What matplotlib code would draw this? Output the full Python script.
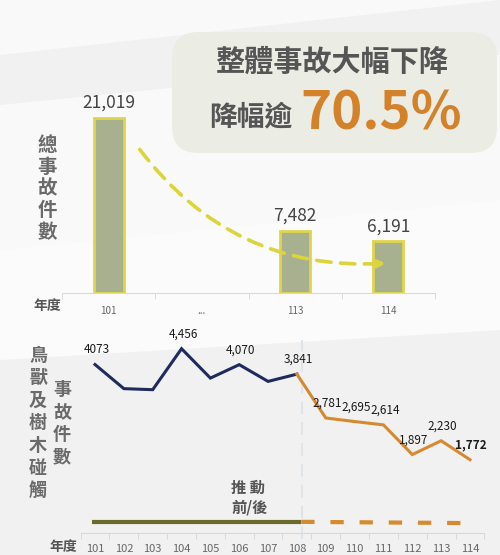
import matplotlib
matplotlib.use('Agg')
import matplotlib.pyplot as plt
from matplotlib.patches import FancyBboxPatch, Polygon
import numpy as np

plt.rcParams['font.family'] = ['Noto Sans CJK TC', 'DejaVu Sans']

# top chart: total accidents
total_years = ['101', '...', '113', '114']
total_values = [21019, None, 7482, 6191]
total_labels = ['21,019', '', '7,482', '6,191']

# bottom chart: bird / animal / tree contact accidents
contact_years = ['101', '102', '103', '104', '105', '106', '107',
                 '108', '109', '110', '111', '112', '113', '114']
contact_values = [4073, 3490, 3465, 4456, 3745, 4070, 3665,
                  3841, 2781, 2695, 2614, 1897, 2230, 1772]
contact_labels = ['4073', '', '', '4,456', '', '4,070', '',
                  '3,841', '2,781', '2,695', '2,614', '1,897', '2,230', '1,772']
split_index = 7  # 108 = start of the program

title_line1 = '整體事故大幅下降'
title_line2 = '降幅逾'
title_pct = '70.5%'

W, H = 500, 555
fig = plt.figure(figsize=(W / 100, H / 100), dpi=100)
fig.patch.set_facecolor('#f1f1f1')

# background / decoration layer in pixel coordinates
bg = fig.add_axes([0, 0, 1, 1], zorder=0)
bg.set_xlim(0, W)
bg.set_ylim(H, 0)
bg.axis('off')
bg.add_patch(Polygon([(0, 0), (500, 0), (500, 300), (0, 345)], closed=True,
                     facecolor='#f9f9f9', edgecolor='none'))
bg.add_patch(Polygon([(0, 55), (500, 0), (500, 55), (0, 105)], closed=True,
                     facecolor='#ececec', edgecolor='none', alpha=0.6))
bg.add_patch(Polygon([(0, 250), (500, 200), (500, 330), (0, 360)], closed=True,
                     facecolor='#fbfbfb', edgecolor='none'))
bg.add_patch(FancyBboxPatch((172, 32), 325, 121,
                            boxstyle='round,pad=0,rounding_size=26',
                            facecolor='#ebede5', edgecolor='none'))
bg.text(332, 62, title_line1, ha='center', va='center', fontsize=21,
        fontweight='bold', color='#555555')
bg.text(251, 117, title_line2, ha='center', va='center', fontsize=20,
        fontweight='bold', color='#555555')
bg.text(300, 130, title_pct, ha='left', va='baseline', fontsize=38,
        fontweight='bold', color='#d4822a')

bg.text(47, 189, '\n'.join('總事故件數'), ha='center', va='center', fontsize=14,
        fontweight='bold', color='#6a6a6a', linespacing=1.18)
bg.text(47, 306, '年度', ha='center', va='center', fontsize=10,
        fontweight='bold', color='#555555')
bg.text(38, 423, '\n'.join('鳥獸及樹木碰觸'), ha='center', va='center', fontsize=13,
        fontweight='bold', color='#6a6a6a', linespacing=1.24)
bg.text(62, 423, '\n'.join('事故件數'), ha='center', va='center', fontsize=13,
        fontweight='bold', color='#6a6a6a', linespacing=1.22)
bg.text(63, 547, '年度', ha='center', va='center', fontsize=10,
        fontweight='bold', color='#555555')

# ---- top bar chart ----
ax1 = fig.add_axes([62 / W, 1 - 293 / H, 373 / W, 193 / H], zorder=1)
ax1.patch.set_alpha(0)
xs = np.arange(len(total_years))
for x, v, lab in zip(xs, total_values, total_labels):
    if v is None:
        continue
    ax1.bar(x, v, width=0.32, color='#a8b18f', edgecolor='#ded54a', linewidth=2)
    ax1.annotate(lab, (x, v), xytext=(0, 11), textcoords='offset points',
                 ha='center', va='center', fontsize=12.5, color='#444444')
ax1.set_xlim(-0.5, len(total_years) - 0.5)
ax1.set_ylim(0, 23200)
ax1.set_xticks(xs)
ax1.set_xticklabels(total_years, fontsize=7, color='#666666')
ax1.set_xticks(np.arange(len(total_years) + 1) - 0.5, minor=True)
ax1.tick_params(axis='x', which='major', length=0, pad=9)
ax1.tick_params(axis='x', which='minor', length=4, color='#d5d5d5')
ax1.set_yticks([])
for s in ['top', 'right', 'left']:
    ax1.spines[s].set_visible(False)
ax1.spines['bottom'].set_color('#d9d9d9')

# decreasing trend arrow
ax1.annotate('', xy=(3.0, total_values[3] * 0.58), xytext=(0.315, total_values[0] * 0.834),
             arrowprops=dict(arrowstyle='-|>,head_length=0.5,head_width=0.25',
                             connectionstyle='arc3,rad=0.27', color='#dcd43c',
                             linewidth=2.6, linestyle=(0, (4, 2.6))))

# ---- bottom line chart ----
ax2 = fig.add_axes([80.6 / W, 1 - 533 / H, 403.8 / W, 203 / H], zorder=1)
ax2.patch.set_alpha(0)
cx = np.arange(len(contact_years))
ax2.plot(cx[:split_index + 1], contact_values[:split_index + 1],
         color='#1f2b5e', linewidth=2.2, solid_joinstyle='miter')
ax2.plot(cx[split_index:], contact_values[split_index:],
         color='#d58a2f', linewidth=2.2, solid_joinstyle='miter')
for i, (v, lab) in enumerate(zip(contact_values, contact_labels)):
    if not lab:
        continue
    ax2.annotate(lab, (i, v), xytext=(1, 10.5), textcoords='offset points',
                 ha='center', va='center', fontsize=8.5, color='#1a1a1a',
                 fontweight='bold' if i == len(contact_values) - 1 else 'normal')

# before / after program bar
ax2.plot([-0.1, split_index + 0.15], [270, 270], color='#6b6a2a', linewidth=3,
         solid_capstyle='butt')
ax2.plot([split_index + 0.15, 12.85], [270, 240], color='#d58a2f', linewidth=3,
         linestyle=(0, (3.2, 3.8)))
ax2.axvline(split_index + 0.17, ymin=-0.03, ymax=0.95, color='#dfe4e8',
            linewidth=1.5, linestyle=(0, (6, 4)), clip_on=False, zorder=0)
ax2.text(5.3, 1090, '推 動', ha='center', va='center', fontsize=11,
         fontweight='bold', color='#555555')
ax2.text(5.35, 605, '前/後', ha='center', va='center', fontsize=11,
         fontweight='bold', color='#555555')

ax2.set_xlim(-0.5, len(contact_years) - 0.5)
ax2.set_ylim(0, 4908)
ax2.set_xticks(cx)
ax2.set_xticklabels(contact_years, fontsize=8, color='#666666')
ax2.set_xticks(np.arange(len(contact_years) + 1) - 0.5, minor=True)
ax2.tick_params(axis='x', which='major', length=0, pad=8)
ax2.tick_params(axis='x', which='minor', length=4, color='#d5d5d5')
ax2.set_yticks([])
for s in ['top', 'right', 'left']:
    ax2.spines[s].set_visible(False)
ax2.spines['bottom'].set_color('#d9d9d9')

fig.savefig('out.png', dpi=100, facecolor=fig.get_facecolor())
